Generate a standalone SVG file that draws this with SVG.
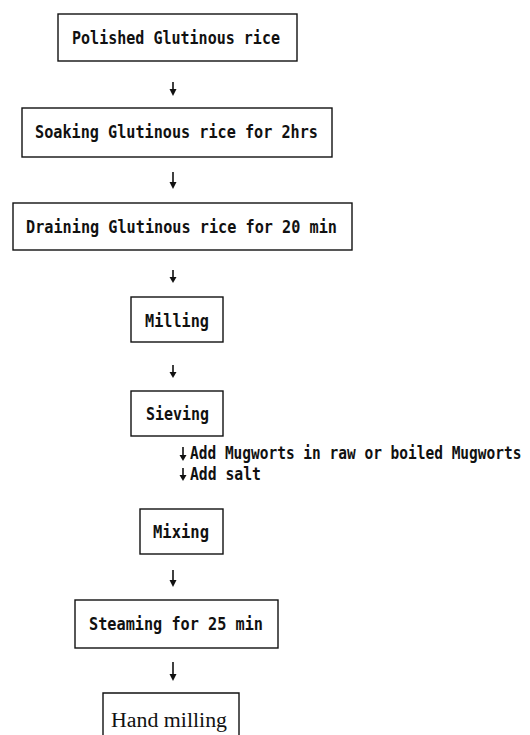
<svg xmlns="http://www.w3.org/2000/svg" width="530" height="735" viewBox="0 0 530 735">
<style>
.box{fill:none;stroke:#111;stroke-width:1.4}
.t{font-family:"DejaVu Sans Mono","Liberation Mono",monospace;font-weight:bold;font-size:17.5px;fill:#111}
.s{font-family:"Liberation Serif","Times New Roman",serif;font-size:20px;fill:#111}
.arr line{stroke:#111;stroke-width:1.6}
.arr path{fill:#111}
</style>
<rect width="530" height="735" fill="#fff"/>
<g id="n1"><rect class="box" x="58" y="14" width="239" height="47"/><text class="t" x="72" y="44" textLength="208" lengthAdjust="spacingAndGlyphs">Polished Glutinous rice</text></g>
<g id="n2"><rect class="box" x="22" y="108" width="310" height="49"/><text class="t" x="35" y="138" textLength="283" lengthAdjust="spacingAndGlyphs">Soaking Glutinous rice for 2hrs</text></g>
<g id="n3"><rect class="box" x="13" y="203" width="339" height="47"/><text class="t" x="26" y="233" textLength="311" lengthAdjust="spacingAndGlyphs">Draining Glutinous rice for 20 min</text></g>
<g id="n4"><rect class="box" x="131" y="297" width="92" height="45"/><text class="t" x="145" y="327" textLength="64" lengthAdjust="spacingAndGlyphs">Milling</text></g>
<g id="n5"><rect class="box" x="131" y="391" width="92" height="45"/><text class="t" x="146" y="420" textLength="63" lengthAdjust="spacingAndGlyphs">Sieving</text></g>
<g id="n6"><rect class="box" x="140" y="509" width="83" height="45"/><text class="t" x="153" y="538" textLength="56" lengthAdjust="spacingAndGlyphs">Mixing</text></g>
<g id="n7"><rect class="box" x="75" y="600" width="203" height="48"/><text class="t" x="89" y="630" textLength="174" lengthAdjust="spacingAndGlyphs">Steaming for 25 min</text></g>
<g id="n8"><path class="box" d="M103 740 V693 H239 V740"/><text class="s" x="111" y="727" textLength="116" lengthAdjust="spacingAndGlyphs">Hand milling</text></g>
<g id="connectors" class="arr">
<line x1="173" y1="82" x2="173" y2="91"/><path d="M169.5 89 L176.5 89 L173 96 Z"/>
<line x1="173" y1="172" x2="173" y2="183"/><path d="M169.5 182 L176.5 182 L173 189 Z"/>
<line x1="173" y1="270" x2="173" y2="278"/><path d="M169.5 277 L176.5 277 L173 283 Z"/>
<line x1="173" y1="365" x2="173" y2="373"/><path d="M169.5 372 L176.5 372 L173 378 Z"/>
<line x1="183" y1="447" x2="183" y2="456"/><path d="M179.5 455 L186.5 455 L183 461 Z"/>
<line x1="183" y1="468" x2="183" y2="476"/><path d="M179.5 475 L186.5 475 L183 481 Z"/>
<line x1="173" y1="570" x2="173" y2="581"/><path d="M169.5 580 L176.5 580 L173 587 Z"/>
<line x1="173" y1="662" x2="173" y2="675"/><path d="M169.5 674 L176.5 674 L173 681 Z"/>
</g>
<g id="labels">
<text class="t" style="font-size:14.5px" transform="translate(190,459) scale(1,1.2)" x="0" y="0">Add Mugworts in raw or boiled Mugworts</text>
<text class="t" x="190" y="480" textLength="71" lengthAdjust="spacingAndGlyphs">Add salt</text>
</g>
</svg>
